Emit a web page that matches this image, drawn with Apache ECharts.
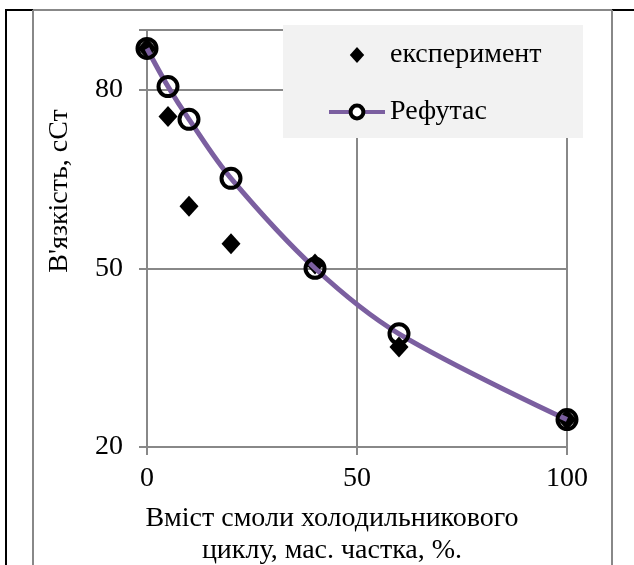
<!DOCTYPE html>
<html>
<head>
<meta charset="utf-8">
<script src="https://cdn.jsdelivr.net/npm/echarts@6/dist/echarts.min.js"></script>
<style>html,body{margin:0;padding:0;background:#fff;}#c{width:634px;height:565px;}</style>
</head>
<body>
<div id="c"></div>
<script>
var xValues = [0, 5, 10, 20, 40, 60, 100];
var experimentValues = [86.9, 75.5, 60.4, 54.1, 50.7, 36.8, 24.6];
var refutasValues = [86.9, 80.5, 75.0, 65.1, 50.0, 39.0, 24.6];
var yTicks = [20, 50, 80];
var seriesNames = ['експеримент', 'Рефутас'];
var yTitle = "В'язкість, сСт";
var xTitle = 'Вміст смоли холодильникового\nциклу, мас. частка, %.';

var FONT = 'Liberation Serif';
var GRAY = '#888888';
var PURPLE = '#7b5fa0';

function pairs(xs, ys) { return xs.map(function (x, i) { return [x, ys[i]]; }); }

var chart = echarts.init(document.getElementById('c'), null, { renderer: 'canvas' });
chart.setOption({
  backgroundColor: '#ffffff',
  animation: false,
  grid: { left: 147, right: 67, top: 30, bottom: 118, containLabel: false },
  xAxis: {
    type: 'value', min: 0, max: 100, interval: 50,
    axisLine: { show: true, lineStyle: { color: GRAY, width: 2 } },
    axisTick: { show: true, length: 8, lineStyle: { color: GRAY, width: 2 } },
    splitLine: { show: true, lineStyle: { color: GRAY, width: 2 } },
    axisLabel: { color: '#000', fontFamily: FONT, fontSize: 28, margin: 18 }
  },
  yAxis: {
    type: 'value', min: 20, max: 90, interval: 30,
    axisLine: { show: true, lineStyle: { color: GRAY, width: 2 } },
    axisTick: { show: true, length: 8, lineStyle: { color: GRAY, width: 2 } },
    splitLine: { show: true, lineStyle: { color: GRAY, width: 2 } },
    axisLabel: { color: '#000', fontFamily: FONT, fontSize: 28, margin: 24,
      formatter: function (v) { return yTicks.indexOf(v) >= 0 ? String(v) : ''; } }
  },
  legend: {
    orient: 'vertical', left: 283, top: 25, z: 6,
    padding: [16, 38, 13, 44],
    itemWidth: 56, itemHeight: 16, itemGap: 29,
    textStyle: { color: '#000', fontFamily: FONT, fontSize: 28 },
    data: [
      { name: seriesNames[0], icon: 'path://M9,0L18,10L9,20L0,10Z' },
      { name: seriesNames[1],
        lineStyle: { color: PURPLE, width: 4 },
        itemStyle: { color: '#ffffff', borderColor: '#000', borderWidth: 4 } }
    ]
  },
  series: [
    {
      name: seriesNames[0], type: 'scatter', z: 1,
      symbol: 'diamond', symbolSize: [19, 21],
      itemStyle: { color: '#000', opacity: 1 },
      data: pairs(xValues, experimentValues)
    },
    {
      name: seriesNames[1], type: 'line', z: 2, smooth: 0.35,
      symbol: 'circle', symbolSize: 19, showAllSymbol: true,
      lineStyle: { color: PURPLE, width: 5 },
      itemStyle: { color: 'rgba(0,0,0,0)', borderColor: '#000', borderWidth: 4 },
      data: pairs(xValues, refutasValues)
    }
  ],
  graphic: [
    { type: 'rect', z: 5, shape: { x: 283, y: 25, width: 300, height: 113 }, style: { fill: '#f2f2f2' } },
    { type: 'line', shape: { x1: 6, y1: 10, x2: 6, y2: 565 }, style: { stroke: '#000', lineWidth: 2 } },
    { type: 'line', shape: { x1: 5, y1: 10, x2: 33, y2: 10 }, style: { stroke: '#000', lineWidth: 2 } },
    { type: 'line', shape: { x1: 612, y1: 10, x2: 634, y2: 10 }, style: { stroke: '#000', lineWidth: 2 } },
    { type: 'line', shape: { x1: 33, y1: 10, x2: 612, y2: 10 }, style: { stroke: GRAY, lineWidth: 2 } },
    { type: 'line', shape: { x1: 33, y1: 10, x2: 33, y2: 565 }, style: { stroke: GRAY, lineWidth: 2 } },
    { type: 'line', shape: { x1: 612, y1: 10, x2: 612, y2: 565 }, style: { stroke: GRAY, lineWidth: 2 } },
    { type: 'text', rotation: Math.PI / 2, x: 60, y: 191,
      style: { text: yTitle, fontFamily: FONT, fontSize: 28, fill: '#000', align: 'center', verticalAlign: 'middle' } },
    { type: 'text', x: 332, y: 503,
      style: { text: xTitle, fontFamily: FONT, fontSize: 28, lineHeight: 32, fill: '#000', align: 'center', verticalAlign: 'top' } }
  ]
});
</script>
</body>
</html>
